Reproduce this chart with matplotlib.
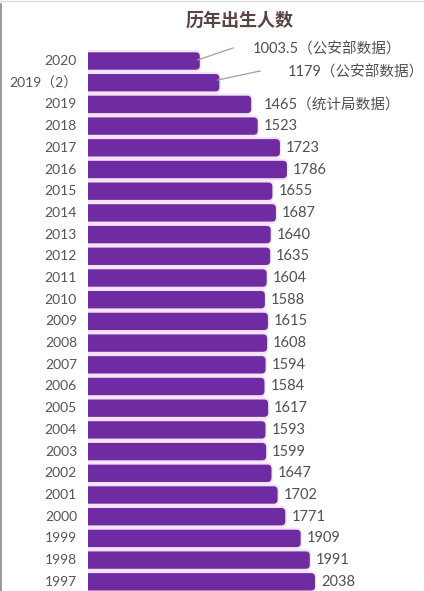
import matplotlib
matplotlib.use("Agg")
import matplotlib.pyplot as plt
from matplotlib.patches import FancyBboxPatch
from matplotlib.lines import Line2D

plt.rcParams['font.family'] = ['Lato', 'Noto Sans CJK SC', 'DejaVu Sans']

title = "历年出生人数"
years = ["2020", "2019（2）", "2019", "2018", "2017", "2016", "2015", "2014", "2013",
         "2012", "2011", "2010", "2009", "2008", "2007", "2006", "2005", "2004",
         "2003", "2002", "2001", "2000", "1999", "1998", "1997"]
values = [1003.5, 1179, 1465, 1523, 1723, 1786, 1655, 1687, 1640, 1635, 1604, 1588,
          1615, 1608, 1594, 1584, 1617, 1593, 1599, 1647, 1702, 1771, 1909, 1991, 2038]
value_labels = ["1003.5（公安部数据）", "1179（公安部数据）", "1465（统计局数据）"] + \
               [str(int(v)) if v == int(v) else str(v) for v in values[3:]]

W, H = 424, 591
fig = plt.figure(figsize=(W / 100, H / 100), dpi=100)
left_px = 88
ax = fig.add_axes([left_px / W, 0, (W - left_px) / W, 1])
px_per_unit = 0.1114
pitch = 21.7
ax.set_xlim(0, (W - left_px) / px_per_unit)
ax.set_ylim((H - 61) / pitch, -61 / pitch)
ax.axis('off')

pos = list(range(len(values)))
bars = ax.barh(pos, values, height=0.80, color='none')

xu = 1 / px_per_unit      # data x per px
yu = 1 / pitch            # data y per px
aspect = yu / xu
purple = '#6e2ba2'
for rect in bars.patches:
    x0, y0 = rect.get_x(), rect.get_y()
    w, h = rect.get_width(), rect.get_height()
    glow = FancyBboxPatch((x0 - 60, y0 - 2.2 * yu), w + 60 + 1.5 * xu, h + 4.4 * yu,
                          boxstyle=f"round,pad=0,rounding_size={5.5 * xu}",
                          mutation_aspect=aspect, facecolor='#f4e2f6',
                          edgecolor='none', zorder=1, clip_on=True)
    ax.add_patch(glow)
    p = FancyBboxPatch((x0 - 60, y0), w + 60, h,
                       boxstyle=f"round,pad=0,rounding_size={4 * xu}",
                       mutation_aspect=aspect, facecolor=purple,
                       edgecolor='none', zorder=2, clip_on=True)
    ax.add_patch(p)

# year labels
for i, y in enumerate(years):
    fig.text(77 / W, 1 - (61 + pitch * i) / H, y, ha='right', va='center',
             fontsize=10, color='#555555')

# value labels
txt_color = '#505050'
fs = 10.5
for i, (v, lab) in enumerate(zip(values, value_labels)):
    if i == 0:
        ax.plot([v - 2 * xu, (233 - left_px) * xu], [i - 0.05, i - 0.6],
                color='#a0a0a0', lw=0.9, zorder=3, clip_on=False)
        ax.text((253 - left_px) * xu, i - 0.55, lab, ha='left', va='center',
                fontsize=fs, color=txt_color, clip_on=False)
    elif i == 1:
        ax.plot([v - 2 * xu, (260 - left_px) * xu], [i - 0.12, i - 0.54],
                color='#a0a0a0', lw=0.9, zorder=3, clip_on=False)
        ax.text((288 - left_px) * xu, i - 0.49, lab, ha='left', va='center',
                fontsize=fs, color=txt_color, clip_on=False)
    else:
        off = 13 if i == 2 else 6
        ax.text(v + off * xu, i, lab, ha='left', va='center', fontsize=fs,
                color=txt_color, clip_on=False)

fig.text(240 / W, 1 - 20 / H, title, ha='center', va='center', fontsize=13,
         fontweight='bold', color='#5a4444', family=['Noto Sans CJK SC'])

# frame lines (left and top)
fig.add_artist(Line2D([0.8 / W, 0.8 / W], [0, 1 - 4 / H], transform=fig.transFigure,
                      color='#888888', lw=1.2))
fig.add_artist(Line2D([0, 1], [1 - 1 / H, 1 - 1 / H], transform=fig.transFigure,
                      color='#dddddd', lw=1))

fig.savefig('out.png', dpi=100)
